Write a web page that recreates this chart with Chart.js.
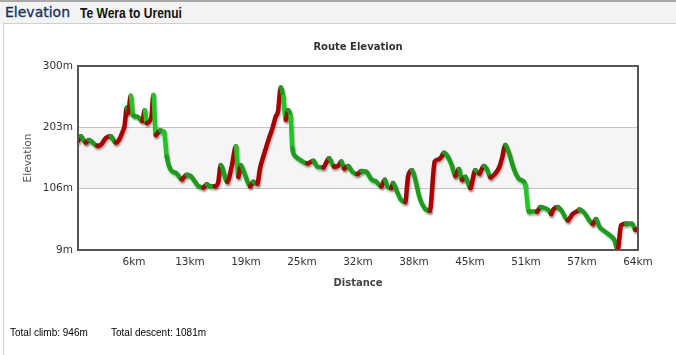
<!DOCTYPE html>
<html>
<head>
<meta charset="utf-8">
<script src="https://cdn.jsdelivr.net/npm/chart.js@4/dist/chart.umd.min.js"></script>
<style>
  html, body { margin: 0; padding: 0; background: #fff; }
  body { width: 676px; height: 355px; position: relative; overflow: hidden; }
  #header { position: absolute; left: 0; top: 0; width: 676px; height: 22px; background: #f3f3f3; border-top: 2px solid #a8a8a8; }
  #header .sec { position: absolute; left: 5px; top: 2px; font: 14px "DejaVu Sans", sans-serif; color: #16305a; -webkit-text-stroke: 0.3px #16305a; }
  #header .route { position: absolute; left: 80px; top: 3px; font: bold 14px "Liberation Sans", Arial, sans-serif; color: #111; transform: scaleX(0.86); transform-origin: left top; white-space: nowrap; }
  #panel { position: absolute; left: 3px; top: 23px; width: 700px; height: 340px; border-top: 1px solid #cfcfcf; border-left: 1px solid #cfcfcf; }
  #wrap { position: absolute; left: 0; top: 0; width: 676px; height: 355px; }
  #footer { position: absolute; left: 10px; top: 327px; font: 10px "Liberation Sans", Arial, sans-serif; color: #000; }
  #footer span { position: absolute; top: 0; white-space: nowrap; }
</style>
</head>
<body>
<div id="header"><span class="sec">Elevation</span><span class="route">Te Wera to Urenui</span></div>
<div id="panel"></div>
<div id="wrap"><canvas id="elevationChart" width="676" height="355"></canvas></div>
<div id="footer"><span style="left:0">Total climb: 946m</span><span style="left:101px">Total descent: 1081m</span></div>
<script>
// profile
const distanceKm = [
  0, 0.31, 0.88, 1.25, 2.20, 2.58, 3.15, 3.72, 4.29, 4.66,
  5.01, 5.31, 5.54, 5.72, 5.99, 6.29, 6.75, 7.31, 7.59, 7.81,
  8.34, 8.57, 8.84, 9.33, 9.78, 10.09, 10.54, 11.23, 11.80, 12.36,
  12.82, 13.31, 13.68, 14.25, 14.64, 15.02, 15.58, 15.96, 16.23, 16.98,
  17.48, 17.97, 18.23, 18.51, 19.00, 19.57, 19.94, 20.40, 20.70, 21.08,
  21.39, 21.73, 22.10, 22.49, 22.75, 23.06, 23.35, 23.63, 23.89, 24.19,
  24.38, 24.76, 25.33, 26.08, 26.77, 27.22, 27.90, 28.55, 29.12, 29.58,
  29.95, 30.26, 30.71, 31.20, 31.77, 32.23, 32.79, 33.36, 33.93, 34.50,
  34.89, 35.26, 35.64, 35.83, 36.21, 36.71, 37.23, 37.54, 37.99, 38.30,
  38.87, 39.44, 40.01, 40.58, 40.95, 41.33, 41.63, 42.01, 42.54, 42.92,
  43.31, 43.68, 44.06, 44.62, 45.19, 45.65, 46.15, 46.52, 46.90, 47.40,
  47.92, 48.23, 48.61, 48.99, 49.56, 50.13, 50.51, 50.88, 51.27, 51.64,
  52.21, 52.59, 53.16, 53.54, 53.80, 54.07, 54.57, 55.06, 55.70, 56.27,
  56.84, 57.02, 57.59, 58.16, 58.54, 58.92, 59.30, 59.98, 60.63, 61.00,
  61.39, 61.77, 62.34, 63.02, 63.39, 63.70
];
const elevationM = [
  181, 189, 179, 183, 174, 175, 186, 189, 179, 183,
  194, 207, 234, 226, 253, 222, 220, 213, 230, 210,
  218, 254, 191, 198, 196, 157, 136, 130, 121, 128,
  126, 117, 110, 108, 113, 110, 110, 117, 143, 117,
  141, 173, 125, 143, 128, 110, 117, 114, 138, 157,
  171, 186, 201, 220, 228, 266, 251, 215, 230, 220,
  170, 157, 151, 146, 150, 141, 140, 154, 141, 142,
  149, 138, 142, 133, 129, 134, 133, 121, 117, 110,
  120, 108, 107, 115, 104, 89, 85, 125, 135, 124,
  91, 75, 71, 149, 152, 156, 163, 158, 142, 126,
  137, 120, 125, 107, 135, 130, 142, 137, 124, 129,
  140, 154, 175, 164, 138, 122, 119, 112, 70, 70,
  70, 77, 75, 72, 66, 73, 77, 70, 56, 66,
  71, 73, 68, 56, 50, 58, 46, 38, 31, 25,
  10, 48, 51, 51, 41, 43
];
const totalKm = 63.7;
const xTickLabels = ['6km', '13km', '19km', '25km', '32km', '38km', '45km', '51km', '57km', '64km'];
const yTickValues = [9, 106, 203, 300];
const yTickLabels = ['9m', '106m', '203m', '300m'];

const FONT = '"DejaVu Sans", Verdana, sans-serif';

const bandPlugin = {
    id: 'band',
    beforeDraw(chart) {
        const {ctx, chartArea, scales} = chart;
        const yTop = scales.y.getPixelForValue(203);
        const yBot = scales.y.getPixelForValue(106);
        ctx.save();
        ctx.fillStyle = '#f5f5f5';
        ctx.fillRect(chartArea.left, yTop, chartArea.right - chartArea.left, yBot - yTop);
        ctx.restore();
    },
    beforeDatasetDraw(chart) {
        const ctx = chart.ctx;
        ctx.save();
        ctx.shadowColor = 'rgba(0,0,0,0.28)';
        ctx.shadowBlur = 2;
        ctx.shadowOffsetX = 1;
        ctx.shadowOffsetY = 2;
    },
    afterDatasetDraw(chart) {
        chart.ctx.restore();
    },
    afterDatasetsDraw(chart) {
        const {ctx, chartArea} = chart;
        ctx.save();
        ctx.strokeStyle = '#555';
        ctx.lineWidth = 2;
        ctx.strokeRect(chartArea.left, chartArea.top, chartArea.right - chartArea.left, chartArea.bottom - chartArea.top);
        ctx.restore();
    }
};

function segColor(c) {
    const dy = c.p1.parsed.y - c.p0.parsed.y;
    const dx = Math.max(c.p1.parsed.x - c.p0.parsed.x, 0.01);
    if (dy > 0) return '#a80000';
    return (dy / dx < -60) ? '#22c622' : '#1c9c1c';
}

new Chart(document.getElementById('elevationChart'), {
    type: 'line',
    data: {
        datasets: [{
            data: distanceKm.map((d, i) => ({x: d, y: elevationM[i]})),
            borderWidth: 4.5,
            borderCapStyle: 'round',
            borderJoinStyle: 'round',
            pointRadius: 0,
            cubicInterpolationMode: 'monotone',
            segment: { borderColor: segColor },
            borderColor: '#1c9c1c'
        }]
    },
    options: {
        responsive: false,
        animation: false,
        events: [],
        layout: { padding: { left: 0, right: 38, top: 0, bottom: 0 } },
        plugins: {
            legend: { display: false },
            tooltip: { enabled: false },
            title: {
                display: true,
                fullSize: false,
                text: 'Route Elevation',
                color: '#333',
                font: { family: FONT, size: 10, weight: 'bold' },
                padding: { top: 41, bottom: 13 }
            }
        },
        scales: {
            x: {
                type: 'linear',
                min: 0,
                max: totalKm,
                afterBuildTicks(scale) {
                    scale.ticks = xTickLabels.map((_, i) => ({ value: (i + 1) * totalKm / 10 }));
                },
                afterFit(scale) { scale.height = 105; },
                grid: { display: false, drawTicks: false },
                border: { display: false },
                ticks: {
                    autoSkip: false,
                    maxRotation: 0,
                    padding: 6,
                    color: '#333',
                    font: { family: FONT, size: 10.5 },
                    callback: (v, i) => xTickLabels[i]
                },
                title: {
                    display: true,
                    text: 'Distance',
                    color: '#444',
                    font: { family: FONT, size: 10, weight: 'bold' },
                    padding: { top: 0, bottom: 66 }
                }
            },
            y: {
                min: 9,
                max: 300,
                afterBuildTicks(scale) {
                    scale.ticks = yTickValues.map(v => ({ value: v }));
                },
                afterFit(scale) { scale.width = 78; },
                grid: {
                    drawTicks: false,
                    color: c => (c.tick && (c.tick.value === 106 || c.tick.value === 203)) ? '#c4c4c4' : 'rgba(0,0,0,0)'
                },
                border: { display: false },
                ticks: {
                    padding: 5,
                    color: '#333',
                    font: { family: FONT, size: 10.5 },
                    callback: (v, i) => yTickLabels[i]
                },
                title: {
                    display: true,
                    text: 'Elevation',
                    color: '#555',
                    font: { family: FONT, size: 10.5 },
                    padding: { top: 22, bottom: 0 }
                }
            }
        }
    },
    plugins: [bandPlugin]
});
</script>
</body>
</html>
